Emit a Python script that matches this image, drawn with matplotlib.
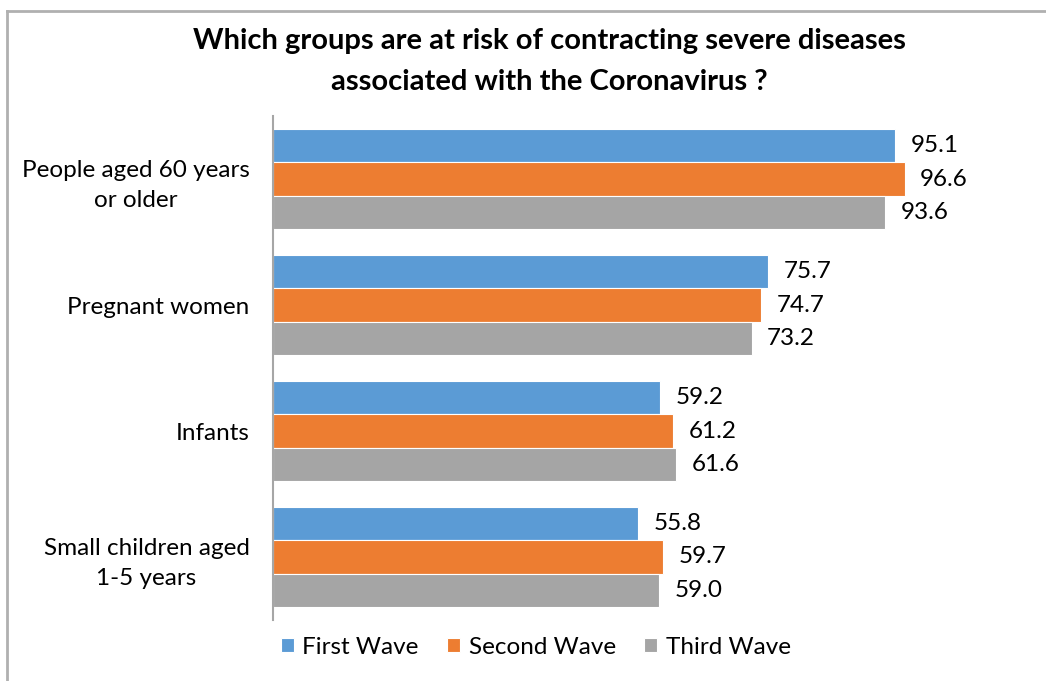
import numpy as np
import matplotlib.pyplot as plt
from matplotlib.lines import Line2D

plt.rcParams['font.family'] = ['Lato', 'DejaVu Sans']

categories = ["People aged 60 years\nor older", "Pregnant women", "Infants",
              "Small children aged\n1-5 years"]
series_names = ["First Wave", "Second Wave", "Third Wave"]
first_wave = [95.1, 75.7, 59.2, 55.8]
second_wave = [96.6, 74.7, 61.2, 59.7]
third_wave = [93.6, 73.2, 61.6, 59.0]
colors = ["#5b9bd5", "#ed7d31", "#a5a5a5"]

fig = plt.figure(figsize=(10.46, 6.81), dpi=100)
ax = fig.add_axes([0.261, 0.0896, 0.625, 0.740])

# outer chart frame (only left and top edges visible)
fig.add_artist(Line2D([7 / 1046, 7 / 1046], [0, 1 - 11 / 681], transform=fig.transFigure,
                      color="#b0b0b0", lw=2))
fig.add_artist(Line2D([7 / 1046, 1], [1 - 11 / 681, 1 - 11 / 681], transform=fig.transFigure,
                      color="#b0b0b0", lw=2))

y = np.arange(len(categories))
h = 0.265
for i, (vals, name, c) in enumerate(zip([first_wave, second_wave, third_wave], series_names, colors)):
    pos = y + (i - 1) * h
    ax.barh(pos, vals, height=h, color=c, edgecolor="white", linewidth=0.8, label=name)
    for p, v in zip(pos, vals):
        ax.text(v + 2.4, p, f"{v:.1f}", va="center", ha="left", fontsize=17.5, color="#000000")

ax.set_xlim(0, 100)
ax.set_ylim(len(categories) - 0.5, -0.5)
ax.set_yticks(y)
ax.set_yticklabels(categories, fontsize=17.5, ha="right", multialignment="center",
                   linespacing=1.55)
ax.tick_params(axis="y", length=0, pad=17)
ax.set_xticks([])
for s in ["top", "right", "bottom"]:
    ax.spines[s].set_visible(False)
ax.spines["left"].set_color("#a6a6a6")
ax.spines["left"].set_linewidth(1.5)

fig.text(0.525, 0.94, "Which groups are at risk of contracting severe diseases",
         ha="center", va="center", fontsize=21, fontweight="bold")
fig.text(0.525, 0.879, "associated with the Coronavirus ?",
         ha="center", va="center", fontsize=21, fontweight="bold")

fig.legend(loc="center", bbox_to_anchor=(0.512, 1 - 647 / 681), ncol=3, frameon=False,
           fontsize=17.5, handlelength=0.55, handleheight=0.55, handletextpad=0.35,
           columnspacing=1.15)

fig.savefig("out.png", dpi=100, facecolor="white")
